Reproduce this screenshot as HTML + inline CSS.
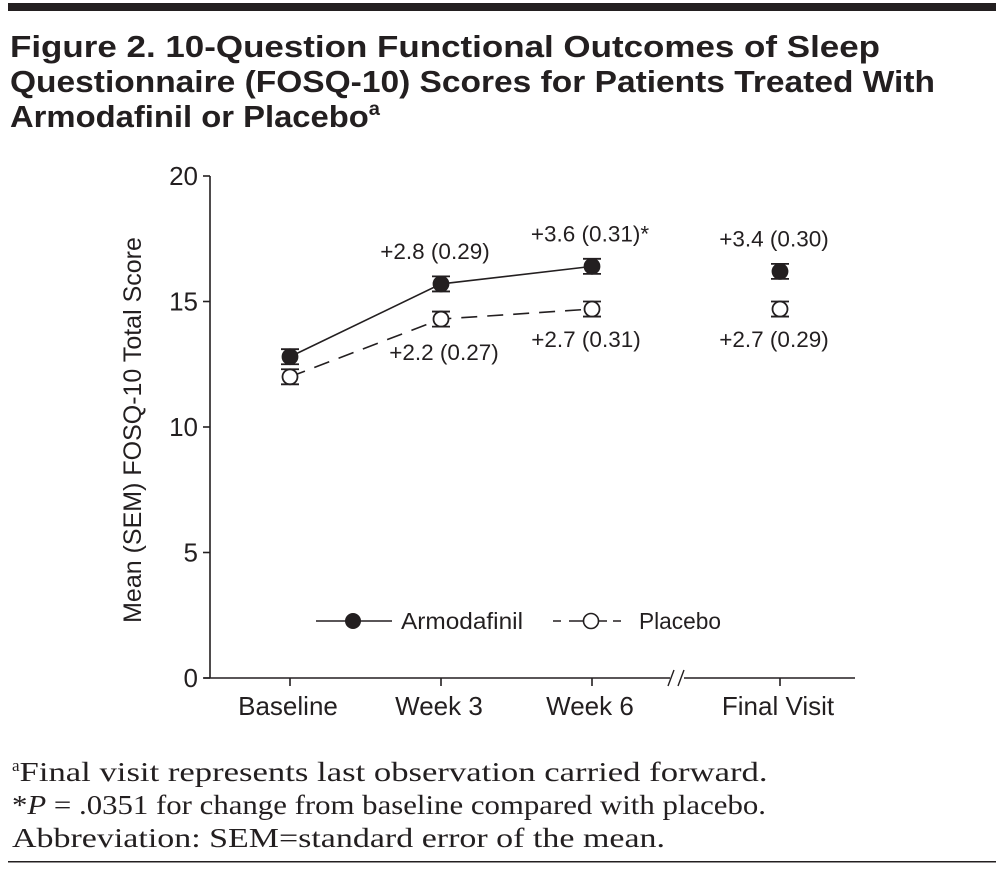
<!DOCTYPE html>
<html><head><meta charset="utf-8"><style>
body{margin:0;background:#fff;width:1004px;height:871px;overflow:hidden;font-family:"Liberation Sans",sans-serif}
</style></head><body>
<svg width="1004" height="871" xmlns="http://www.w3.org/2000/svg">
<rect x="8" y="3" width="988" height="8" fill="#231f20"/>
<g font-family="Liberation Sans, sans-serif" font-weight="bold" font-size="31" fill="#231f20">
<text x="10" y="57" textLength="870" lengthAdjust="spacingAndGlyphs">Figure 2. 10-Question Functional Outcomes of Sleep</text>
<text x="10" y="92" textLength="925" lengthAdjust="spacingAndGlyphs">Questionnaire (FOSQ-10) Scores for Patients Treated With</text>
<text x="10" y="127" textLength="370" lengthAdjust="spacingAndGlyphs">Armodafinil or Placebo<tspan font-size="19" dy="-12">a</tspan></text>
</g>
<g id="chart"></g>
<g font-family="Liberation Serif, serif" font-size="27" fill="#231f20">
<text x="12" y="781"><tspan font-size="17" dy="-10">a</tspan><tspan dy="10" textLength="748" lengthAdjust="spacingAndGlyphs">Final visit represents last observation carried forward.</tspan></text>
<text x="12" y="814" textLength="754" lengthAdjust="spacingAndGlyphs">*<tspan font-style="italic">P</tspan> = .0351 for change from baseline compared with placebo.</text>
<text x="12" y="847" textLength="653" lengthAdjust="spacingAndGlyphs">Abbreviation: SEM=standard error of the mean.</text>
</g>
<rect x="8" y="861" width="988" height="1.5" fill="#231f20"/>
</svg>
<script>
const categories=["Baseline","Week 3","Week 6","Final Visit"];
const armValues=[12.8,15.7,16.4,16.2];
const placValues=[12.0,14.3,14.7,14.7];
const armLabels=["","+2.8 (0.29)","+3.6 (0.31)*","+3.4 (0.30)"];
const placLabels=["","+2.2 (0.27)","+2.7 (0.31)","+2.7 (0.29)"];
const yTicks=[0,5,10,15,20];
const NS="http://www.w3.org/2000/svg";
const g=document.getElementById('chart');
const xPos=[290,441,592,780];
function x(i){return xPos[i];}
function y(v){return 678-v*25.1;}
function mk(t,a,p){const e=document.createElementNS(NS,t);for(const k in a)e.setAttribute(k,a[k]);(p||g).appendChild(e);return e;}
const col="#231f20";
let e=mk('line',{x1:210,y1:y(0),x2:210,y2:y(20),stroke:col,'stroke-width':1.6});


e=mk('path',{d:`M204 ${y(0)}H670M684 ${y(0)}H855`,stroke:col,'stroke-width':1.6,fill:'none'});


e=mk('path',{d:`M668 ${y(0)+8}L674 ${y(0)-8}M678 ${y(0)+8}L684 ${y(0)-8}`,stroke:col,'stroke-width':1.4,fill:'none'});


yTicks.forEach(v=>{
 const l=mk('line',{x1:203,x2:210,y1:y(v),y2:y(v),stroke:col,'stroke-width':1.6});
 
 
 const t=mk('text',{x:198,y:y(v)+9,'text-anchor':'end','font-size':26,fill:col});
 t.textContent=v;
 
 
});
categories.forEach((c,i)=>{
 const l=mk('line',{x1:x(i),x2:x(i),y1:y(0),y2:y(0)+8,stroke:col,'stroke-width':1.6});
 
 
 const t=mk('text',{x:x(i)-2,y:715,'text-anchor':'middle','font-size':26,fill:col});
 t.textContent=c;
 
 
});
e=mk('text',{x:0,y:0,transform:'translate(141,430) rotate(-90)','text-anchor':'middle','font-size':25,fill:col});
e.textContent='Mean (SEM) FOSQ-10 Total Score';


function linePath(vals){return vals.slice(0,3).map((v,i)=>(i?'L':'M')+x(i)+' '+y(v)).join('');}
e=mk('path',{d:linePath(armValues),stroke:col,'stroke-width':1.6,fill:'none'});


e=mk('path',{d:linePath(placValues),stroke:col,'stroke-width':1.6,fill:'none','stroke-dasharray':'16 10'});


function point(i,v,filled,name){
 const eb=mk('path',{d:`M${x(i)-9} ${y(v+0.3)}H${x(i)+9}M${x(i)-9} ${y(v-0.3)}H${x(i)+9}M${x(i)} ${y(v+0.3)}V${y(v-0.3)}`,stroke:col,'stroke-width':1.8,fill:'none'});
 
 
 const c=mk('circle',{cx:x(i),cy:y(v),r:7.5,fill:filled?col:'#fff',stroke:col,'stroke-width':1.8});
 
 
}
armValues.forEach((v,i)=>point(i,v,true,'armodafinil-point'));
placValues.forEach((v,i)=>point(i,v,false,'placebo-point'));
armLabels.forEach((s,i)=>{if(!s)return;
 const t=mk('text',{x:x(i)-(i==2?0:6)+(i==2?-2:0),y:y(armValues[i])-25,'text-anchor':'middle','font-size':22.5,fill:col});
 t.textContent=s;
 
 
});
placLabels.forEach((s,i)=>{if(!s)return;
 const t=mk('text',{x:x(i)-(i==1?-3:6),y:y(placValues[i])+(i==1?41:38),'text-anchor':'middle','font-size':22.5,fill:col});
 t.textContent=s;
 
 
});
const lg=mk('g',{});


mk('line',{x1:316,x2:392,y1:621,y2:621,stroke:col,'stroke-width':1.6},lg);
mk('circle',{cx:353,cy:621,r:8,fill:col},lg);
e=mk('text',{x:401,y:629,'font-size':23,fill:col,textLength:122,lengthAdjust:'spacingAndGlyphs'},lg);e.textContent='Armodafinil';


mk('path',{d:'M553 621h8M569 621h14M599 621h8M613 621h8',stroke:col,'stroke-width':1.6},lg);
mk('circle',{cx:591,cy:621,r:7.5,fill:'#fff',stroke:col,'stroke-width':1.6},lg);
e=mk('text',{x:639,y:629,'font-size':23,fill:col,textLength:82,lengthAdjust:'spacingAndGlyphs'},lg);e.textContent='Placebo';


</script>
</body></html>
